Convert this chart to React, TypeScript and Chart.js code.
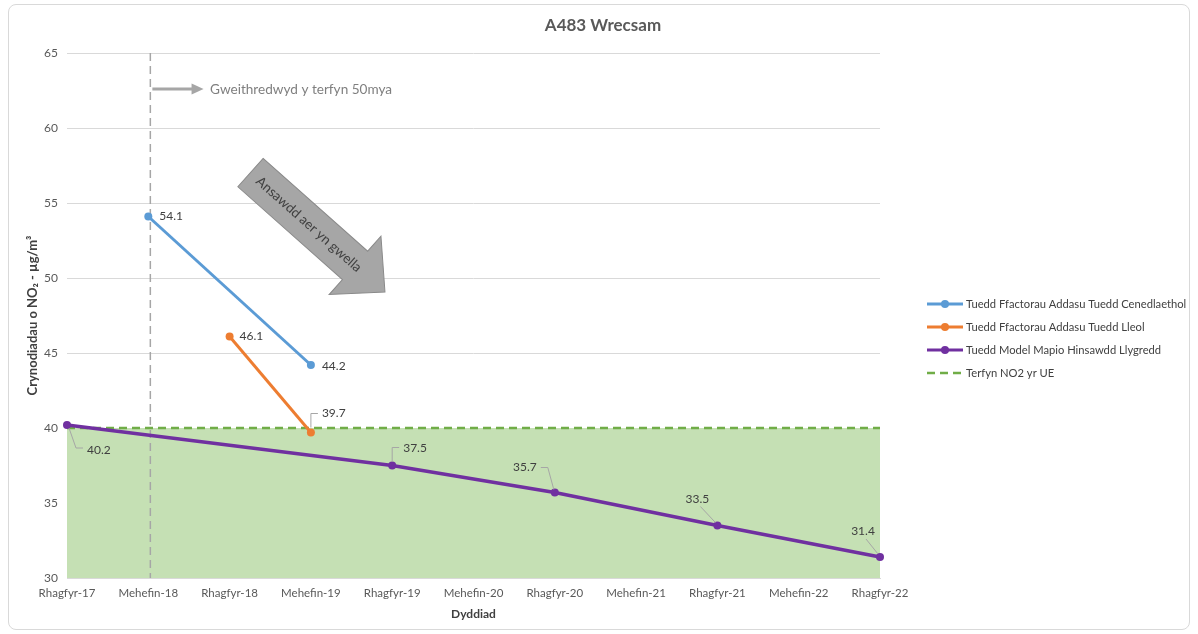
import React, { useEffect, useRef } from "react";
import { Chart, registerables } from "chart.js";

Chart.register(...registerables);

// ---------- DATA ----------
const categories = [
  "Rhagfyr-17", "Mehefin-18", "Rhagfyr-18", "Mehefin-19", "Rhagfyr-19",
  "Mehefin-20", "Rhagfyr-20", "Mehefin-21", "Rhagfyr-21", "Mehefin-22", "Rhagfyr-22",
];
const nationalTrend = [null, 54.1, null, 44.2, null, null, null, null, null, null, null];
const localTrend = [null, null, 46.1, 39.7, null, null, null, null, null, null, null];
const modelTrend = [40.2, null, null, null, 37.5, null, 35.7, null, 33.5, null, 31.4];
const euLimit = [40, 40, 40, 40, 40, 40, 40, 40, 40, 40, 40];

const seriesNames = [
  "Tuedd Ffactorau Addasu Tuedd Cenedlaethol",
  "Tuedd Ffactorau Addasu Tuedd Lleol",
  "Tuedd Model Mapio Hinsawdd Llygredd",
  "Terfyn NO2 yr UE",
];
const yMin = 30;
const yMax = 65;
const yStep = 5;

const chartTitle = "A483 Wrecsam";
const yTitle = "Crynodiadau o NO\u2082 - \u00b5g/m\u00b3";
const xTitle = "Dyddiad";
const limitNote = "Gweithredwyd y terfyn 50mya";
const trendNote = "Ansawdd aer yn gwella";
// category position (fractional) where the 50mph limit began
const limitStart = 1.025;
// annotation anchors in data space (x = category position, y = value)
const noteArrow = { x0: 1.05, x1: 1.68, y: 62.6, textX: 1.76 };
const bigArrow = { tailX: 2.257, tailY: 57.03, tipX: 3.911, tipY: 49.07 };

// ---------- STYLE ----------
const FONT = "Lato, 'Open Sans', sans-serif";
const colors = ["#5b9bd5", "#ed7d31", "#7030a0", "#70ad47"];
const fillGreen = "#c5e0b4";
const textGray = "#595959";
const labelGray = "#404040";
const leaderGray = "#a6a6a6";

type LabelSpec = { dx: number; dy: number; align: CanvasTextAlign; leader?: number[][] };
// per-dataset, per-index label placement (pixel offsets from the point)
const labelSpecs: Record<number, Record<number, LabelSpec>> = {
  0: {
    1: { dx: 11, dy: 0, align: "left" },
    3: { dx: 11, dy: 1, align: "left" },
  },
  1: {
    2: { dx: 10, dy: 0, align: "left" },
    3: { dx: 11, dy: -19, align: "left", leader: [[0, -5], [0, -19], [7, -19]] },
  },
  2: {
    0: { dx: 20, dy: 25, align: "left", leader: [[2, 3], [9, 23], [16, 23]] },
    4: { dx: 11, dy: -17, align: "left", leader: [[0, -4], [0, -18], [7, -18]] },
    6: { dx: -18, dy: -25, align: "right", leader: [[-14, -25], [-7, -25], [-1, -3]] },
    8: { dx: -20, dy: -26, align: "center", leader: [[-17, -19], [-2, -3]] },
    10: { dx: -17, dy: -26, align: "center", leader: [[-14, -18], [-2, -3]] },
  },
};

const annotationPlugin = {
  id: "annotations",
  beforeDatasetsDraw(chart: any) {
    const { ctx, chartArea, scales } = chart;
    const px = scales.x.getPixelForValue(limitStart);
    ctx.save();
    ctx.strokeStyle = "#a6a6a6";
    ctx.lineWidth = 1.5;
    ctx.setLineDash([8, 5]);
    ctx.beginPath();
    ctx.moveTo(px, chartArea.top);
    ctx.lineTo(px, chartArea.bottom);
    ctx.stroke();
    ctx.restore();
  },
  afterDatasetsDraw(chart: any) {
    const { ctx, scales } = chart;
    const { x, y } = scales;
    ctx.save();
    // small arrow + note
    const ax0 = x.getPixelForValue(noteArrow.x0);
    const ax1 = x.getPixelForValue(noteArrow.x1);
    const ay = y.getPixelForValue(noteArrow.y);
    ctx.strokeStyle = "#a6a6a6";
    ctx.fillStyle = "#a6a6a6";
    ctx.lineWidth = 3;
    ctx.beginPath();
    ctx.moveTo(ax0, ay);
    ctx.lineTo(ax1 - 10, ay);
    ctx.stroke();
    ctx.beginPath();
    ctx.moveTo(ax1, ay);
    ctx.lineTo(ax1 - 12, ay - 5.5);
    ctx.lineTo(ax1 - 12, ay + 5.5);
    ctx.closePath();
    ctx.fill();
    ctx.fillStyle = "#7f7f7f";
    ctx.font = `13.6px ${FONT}`;
    ctx.textAlign = "left";
    ctx.textBaseline = "middle";
    ctx.fillText(limitNote, x.getPixelForValue(noteArrow.textX), ay + 1);

    // big block arrow
    const tx = x.getPixelForValue(bigArrow.tailX);
    const ty = y.getPixelForValue(bigArrow.tailY);
    const hx = x.getPixelForValue(bigArrow.tipX);
    const hy = y.getPixelForValue(bigArrow.tipY);
    const len = Math.hypot(hx - tx, hy - ty);
    const ang = Math.atan2(hy - ty, hx - tx);
    const sw = 19, hw = 39, hl = 40;
    ctx.translate(tx, ty);
    ctx.rotate(ang);
    ctx.beginPath();
    ctx.moveTo(0, -sw);
    ctx.lineTo(len - hl, -sw);
    ctx.lineTo(len - hl, -hw);
    ctx.lineTo(len, 0);
    ctx.lineTo(len - hl, hw);
    ctx.lineTo(len - hl, sw);
    ctx.lineTo(0, sw);
    ctx.closePath();
    ctx.fillStyle = "#a6a6a6";
    ctx.fill();
    ctx.strokeStyle = "#8a8a8a";
    ctx.lineWidth = 1;
    ctx.stroke();
    ctx.fillStyle = labelGray;
    ctx.font = `13.5px ${FONT}`;
    ctx.textAlign = "center";
    ctx.textBaseline = "middle";
    ctx.fillText(trendNote, 78, 0);
    ctx.restore();

    // data labels
    ctx.save();
    ctx.font = `12px ${FONT}`;
    ctx.textBaseline = "middle";
    Object.keys(labelSpecs).forEach((dk) => {
      const di = Number(dk);
      const meta = chart.getDatasetMeta(di);
      const vals = chart.data.datasets[di].data;
      Object.keys(labelSpecs[di]).forEach((ik) => {
        const i = Number(ik);
        const spec = labelSpecs[di][i];
        const el = meta.data[i];
        if (!el || vals[i] == null) return;
        const p = { x: el.x, y: el.y };
        if (spec.leader) {
          ctx.strokeStyle = leaderGray;
          ctx.lineWidth = 1;
          ctx.setLineDash([]);
          ctx.beginPath();
          spec.leader.forEach((pt, k) => {
            if (k === 0) ctx.moveTo(p.x + pt[0], p.y + pt[1]);
            else ctx.lineTo(p.x + pt[0], p.y + pt[1]);
          });
          ctx.stroke();
        }
        ctx.fillStyle = labelGray;
        ctx.textAlign = spec.align;
        ctx.fillText(Number(vals[i]).toFixed(1), p.x + spec.dx, p.y + spec.dy);
      });
    });
    ctx.restore();
  },
  afterDraw(chart: any) {
    const { ctx, chartArea, width } = chart;
    ctx.save();
    // chart title centred on the whole canvas
    ctx.fillStyle = textGray;
    ctx.font = `bold 17px ${FONT}`;
    ctx.textAlign = "center";
    ctx.textBaseline = "middle";
    ctx.fillText(chartTitle, width / 2 + 4, 21);

    // legend
    const lx = chartArea.right + 47;
    const rowTop = chartArea.top + 251;
    const rowGap = 23;
    ctx.font = `11.2px ${FONT}`;
    ctx.textBaseline = "middle";
    ctx.textAlign = "left";
    seriesNames.forEach((name, i) => {
      const yy = rowTop + i * rowGap;
      ctx.strokeStyle = colors[i];
      ctx.lineWidth = 3;
      if (i === 3) {
        ctx.setLineDash([8, 5]);
        ctx.lineWidth = 2.5;
      } else ctx.setLineDash([]);
      ctx.beginPath();
      ctx.moveTo(lx, yy);
      ctx.lineTo(lx + 36, yy);
      ctx.stroke();
      ctx.setLineDash([]);
      if (i < 3) {
        ctx.fillStyle = colors[i];
        ctx.beginPath();
        ctx.arc(lx + 18, yy, 4, 0, Math.PI * 2);
        ctx.fill();
      }
      ctx.fillStyle = labelGray;
      ctx.fillText(name, lx + 39, yy);
    });
    ctx.restore();
  },
};

export default function App() {
  const ref = useRef<HTMLCanvasElement | null>(null);
  useEffect(() => {
    if (!ref.current) return;
    const chart = new Chart(ref.current, {
      type: "line",
      data: {
        labels: categories,
        datasets: [
          {
            label: seriesNames[0],
            data: nationalTrend,
            borderColor: colors[0],
            backgroundColor: colors[0],
            borderWidth: 3,
            pointRadius: 4,
            pointBorderWidth: 0,
            spanGaps: true,
            fill: false,
          },
          {
            label: seriesNames[1],
            data: localTrend,
            borderColor: colors[1],
            backgroundColor: colors[1],
            borderWidth: 3,
            pointRadius: 4,
            pointBorderWidth: 0,
            spanGaps: true,
            fill: false,
          },
          {
            label: seriesNames[2],
            data: modelTrend,
            borderColor: colors[2],
            backgroundColor: colors[2],
            borderWidth: 3.5,
            pointRadius: 4,
            pointBorderWidth: 0,
            spanGaps: true,
            fill: false,
          },
          {
            label: seriesNames[3],
            data: euLimit,
            borderColor: colors[3],
            backgroundColor: fillGreen,
            borderWidth: 2.5,
            borderDash: [8, 5],
            pointRadius: 0,
            fill: "start",
          },
        ],
      } as any,
      options: {
        animation: false,
        responsive: true,
        maintainAspectRatio: false,
        layout: { padding: { left: 0, right: 309, top: 48, bottom: 8 } },
        plugins: {
          legend: { display: false },
          tooltip: { enabled: false },
          filler: { drawTime: "beforeDatasetsDraw" },
          title: { display: false },
        } as any,
        scales: {
          x: {
            type: "category",
            offset: false,
            grid: { display: false, drawTicks: false },
            border: { display: true, color: "#d9d9d9" },
            ticks: {
              color: textGray,
              font: { family: FONT, size: 11.5 },
              autoSkip: false,
              maxRotation: 0,
              padding: 8,
            },
            title: {
              display: true,
              text: xTitle,
              color: labelGray,
              font: { family: FONT, size: 12, weight: "bold" },
              padding: { top: 0, bottom: 0 },
            },
            afterFit: (s: any) => {
              s.height = 43;
            },
          },
          y: {
            min: yMin,
            max: yMax,
            grid: { color: "#d9d9d9", drawTicks: false },
            border: { display: false },
            ticks: {
              stepSize: yStep,
              color: textGray,
              font: { family: FONT, size: 12 },
              padding: 9,
            },
            title: {
              display: true,
              text: yTitle,
              color: labelGray,
              font: { family: FONT, size: 13, weight: "bold" },
              padding: { top: 16, bottom: 0 },
            },
            afterFit: (s: any) => {
              s.width = 58;
            },
          },
        },
      } as any,
      plugins: [annotationPlugin],
    });
    return () => chart.destroy();
  }, []);

  return (
    <div
      style={{
        position: "absolute",
        left: 8,
        top: 4,
        width: 1180,
        height: 624,
        border: "1px solid #d9d9d9",
        borderRadius: 8,
        background: "#fff",
      }}
    >
      <canvas ref={ref} />
    </div>
  );
}
